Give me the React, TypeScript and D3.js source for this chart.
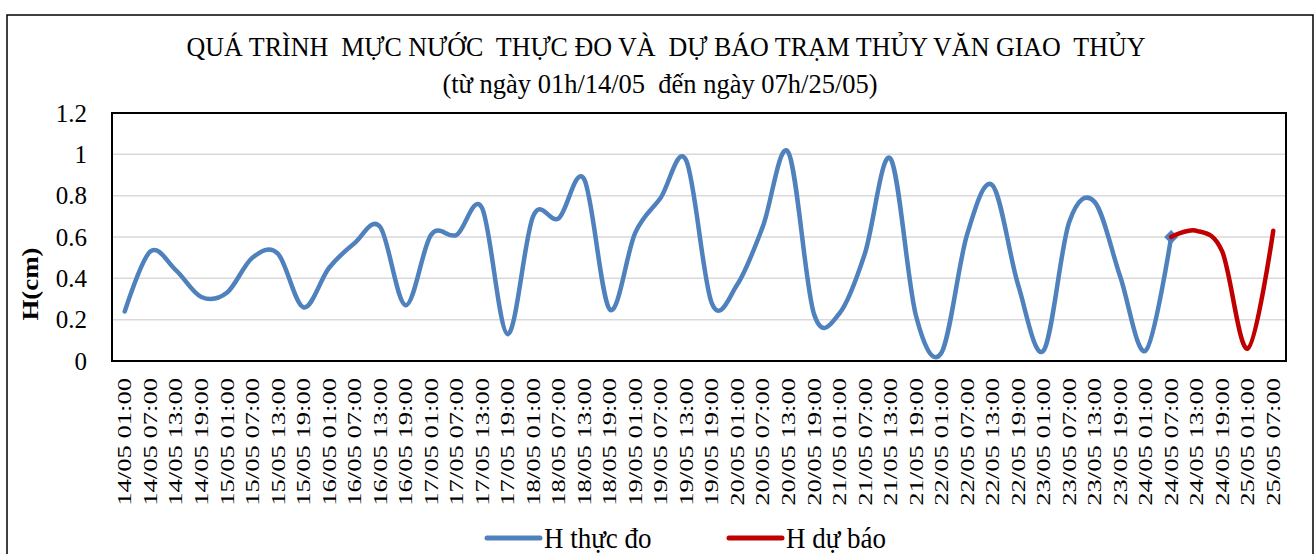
import React from "react";
import * as d3 from "d3";

const categories: string[] = [
  "14/05 01:00", "14/05 07:00", "14/05 13:00", "14/05 19:00",
  "15/05 01:00", "15/05 07:00", "15/05 13:00", "15/05 19:00",
  "16/05 01:00", "16/05 07:00", "16/05 13:00", "16/05 19:00",
  "17/05 01:00", "17/05 07:00", "17/05 13:00", "17/05 19:00",
  "18/05 01:00", "18/05 07:00", "18/05 13:00", "18/05 19:00",
  "19/05 01:00", "19/05 07:00", "19/05 13:00", "19/05 19:00",
  "20/05 01:00", "20/05 07:00", "20/05 13:00", "20/05 19:00",
  "21/05 01:00", "21/05 07:00", "21/05 13:00", "21/05 19:00",
  "22/05 01:00", "22/05 07:00", "22/05 13:00", "22/05 19:00",
  "23/05 01:00", "23/05 07:00", "23/05 13:00", "23/05 19:00",
  "24/05 01:00", "24/05 07:00", "24/05 13:00", "24/05 19:00",
  "25/05 01:00", "25/05 07:00",
];

// H thực đo: 14/05 01:00 .. 24/05 07:00
const observed: number[] = [
  0.24, 0.53, 0.44, 0.31, 0.33, 0.50, 0.52, 0.26, 0.45, 0.57,
  0.65, 0.27, 0.61, 0.61, 0.74, 0.13, 0.70, 0.69, 0.88, 0.25,
  0.62, 0.79, 0.97, 0.28, 0.37, 0.65, 1.01, 0.23, 0.23, 0.52,
  0.98, 0.22, 0.04, 0.61, 0.85, 0.37, 0.05, 0.67, 0.77, 0.41,
  0.05, 0.60,
];

// H dự báo: 24/05 07:00 .. 25/05 07:00
const forecastStart = 41;
const forecast: number[] = [0.60, 0.63, 0.53, 0.06, 0.63];

const yTicks: number[] = [0, 0.2, 0.4, 0.6, 0.8, 1, 1.2];

const title = "QUÁ TRÌNH  MỰC NƯỚC  THỰC ĐO VÀ  DỰ BÁO TRẠM THỦY VĂN GIAO  THỦY";
const subtitle = "(từ ngày 01h/14/05  đến ngày 07h/25/05)";
const yLabel = "H(cm)";
const legendItems = ["H thực đo", "H dự báo"];

const BLUE = "#4F81BD";
const RED = "#C00000";
const FONT = "'Liberation Serif', 'Times New Roman', serif";

export default function App() {
  const W = 1315, H = 554;
  const left = 112, right = 1286, top = 113, bottom = 361;

  const x = d3.scaleBand<string>().domain(categories).range([left, right]).padding(0);
  const cx = (i: number) => (x(categories[i]) as number) + x.bandwidth() / 2;
  const y = d3.scaleLinear().domain([0, 1.2]).range([bottom, top]);

  const line = d3
    .line<{ i: number; v: number }>()
    .x((d) => cx(d.i))
    .y((d) => y(d.v))
    .curve(d3.curveCardinal.tension(0));

  const obsPts = observed.map((v, i) => ({ i, v }));
  const fcPts = forecast.map((v, k) => ({ i: forecastStart + k, v }));
  const lastObs = obsPts[obsPts.length - 1];
  const mx = cx(lastObs.i), my = y(lastObs.v);
  const ds = 7;

  return (
    <svg
      width={W}
      height={H}
      style={{ position: "absolute", left: 0, top: 0, background: "#fff" }}
      fontFamily={FONT}
    >
      <rect x={0} y={0} width={W} height={H} fill="#fff" />
      <rect x={7} y={15} width={1306} height={600} fill="none" stroke="#000" strokeWidth={1.5} />

      <text
        x={666}
        y={56}
        textAnchor="middle"
        fontSize={26}
        style={{ whiteSpace: "pre" }}
        transform="translate(0,56) scale(1,1.05) translate(0,-56)"
      >
        {title}
      </text>
      <text
        x={660}
        y={93}
        textAnchor="middle"
        fontSize={26.5}
        style={{ whiteSpace: "pre" }}
        transform="translate(0,93) scale(1,1.03) translate(0,-93)"
      >
        {subtitle}
      </text>

      {/* gridlines */}
      {yTicks.slice(1, -1).map((t) => (
        <line key={t} x1={left} x2={right} y1={y(t)} y2={y(t)} stroke="#D9D9D9" strokeWidth={1.5} />
      ))}

      {/* y tick labels */}
      {yTicks.map((t) => (
        <text key={t} x={87} y={y(t)} dy="0.35em" textAnchor="end" fontSize={25}>
          {String(t)}
        </text>
      ))}

      {/* y label */}
      <text
        transform={`translate(30,284) rotate(-90) scale(1.12,1)`}
        textAnchor="middle"
        dy="0.35em"
        fontSize={24}
        fontWeight="bold"
      >
        {yLabel}
      </text>

      {/* x labels */}
      {categories.map((c, i) => (
        <text
          key={c}
          transform={`translate(${cx(i)},378) rotate(-90) scale(1.4,1)`}
          textAnchor="end"
          dy="0.35em"
          fontSize={19}
          style={{ whiteSpace: "pre" }}
        >
          {c}
        </text>
      ))}

      {/* series */}
      <path d={line(obsPts) as string} fill="none" stroke={BLUE} strokeWidth={4.5} strokeLinejoin="round" strokeLinecap="round" />
      <path
        d={`M${mx},${my - ds}L${mx + ds},${my}L${mx},${my + ds}L${mx - ds},${my}Z`}
        fill={BLUE}
      />
      <path d={line(fcPts) as string} fill="none" stroke={RED} strokeWidth={4.5} strokeLinejoin="round" strokeLinecap="round" />

      {/* plot border */}
      <rect x={left} y={top} width={right - left} height={bottom - top} fill="none" stroke="#000" strokeWidth={2} />

      {/* legend */}
      <line x1={487} x2={540} y1={538} y2={538} stroke={BLUE} strokeWidth={5} strokeLinecap="round" />
      <text x={544} y={548} fontSize={27} transform="translate(0,548) scale(1,1.08) translate(0,-548)">
        {legendItems[0]}
      </text>
      <line x1={729} x2={782} y1={538} y2={538} stroke={RED} strokeWidth={5} strokeLinecap="round" />
      <text x={786} y={548} fontSize={27} transform="translate(0,548) scale(1,1.08) translate(0,-548)">
        {legendItems[1]}
      </text>
    </svg>
  );
}
